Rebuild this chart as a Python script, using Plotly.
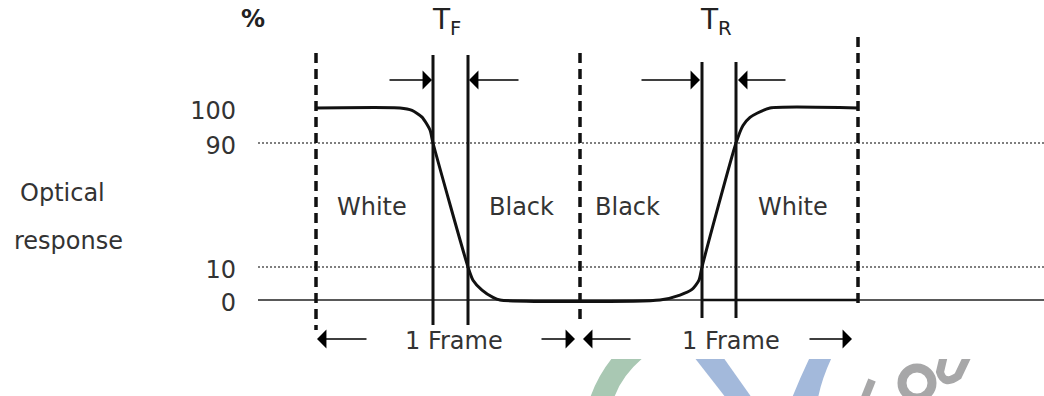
import plotly.graph_objects as go
import numpy as np

# ---------------- data ----------------
LEVEL_PCT = [0, 10, 90, 100]            # response levels (%)
LEVEL_POS = [0, 33, 157, 192]           # schematic vertical position of each level
LEVEL_LABELS = ["0", "10", "90", "100"]

# optical response vs time (schematic units)
TIME = [316, 400, 412, 422, 430, 433, 468, 473, 482, 493, 500,
        660, 680, 692, 699, 702, 736, 743, 750, 757, 770, 858]
RESPONSE = [100, 100, 99.3, 97.4, 93.7, 90, 10, 6, 3, 0.8, 0,
            0, 1.5, 3.2, 6, 10, 90, 95, 97.3, 98.5, 100, 100]

FRAME_BOUNDS = [316, 580, 858]          # frame boundaries
TF_TIMES = [433, 468]                   # fall time markers (90% -> 10%)
TR_TIMES = [702, 736]                   # rise time markers (10% -> 90%)
STATE_LABELS = ["White", "Black", "Black", "White"]
STATE_TIMES = [372, 521, 627, 793]
FRAME_LABEL_TIMES = [454, 731]


def level(p):
    return np.interp(p, LEVEL_PCT, LEVEL_POS)


FONT = "DejaVu Sans"
TXT = "#333333"
INK = "#111111"

fig = go.Figure()

# reference levels
for p in (90, 10):
    fig.add_trace(go.Scatter(x=[258, 1044], y=[level(p)] * 2, mode="lines",
                             line=dict(color="#555555", width=1.3, dash="2px,2px"),
                             hoverinfo="skip", showlegend=False))
fig.add_trace(go.Scatter(x=[258, 1044], y=[level(0)] * 2, mode="lines",
                         line=dict(color="#222222", width=1.5),
                         hoverinfo="skip", showlegend=False))
fig.add_trace(go.Scatter(x=[TR_TIMES[0], FRAME_BOUNDS[2]], y=[level(0)] * 2, mode="lines",
                         line=dict(color=INK, width=2.6),
                         hoverinfo="skip", showlegend=False))

# frame boundaries (dashed)
frame_extent = [(247, -30), (247, -25), (263, -5)]
for t, (top, bot) in zip(FRAME_BOUNDS, frame_extent):
    fig.add_trace(go.Scatter(x=[t, t], y=[top, bot], mode="lines",
                             line=dict(color=INK, width=3.5, dash="10px,6px"),
                             hoverinfo="skip", showlegend=False))

# TF / TR markers
for t in TF_TIMES:
    fig.add_trace(go.Scatter(x=[t, t], y=[245, -25], mode="lines",
                             line=dict(color=INK, width=3),
                             hoverinfo="skip", showlegend=False))
for t in TR_TIMES:
    fig.add_trace(go.Scatter(x=[t, t], y=[238, -18], mode="lines",
                             line=dict(color=INK, width=3),
                             hoverinfo="skip", showlegend=False))

# response curve
fig.add_trace(go.Scatter(x=TIME, y=level(np.array(RESPONSE)), mode="lines",
                         line=dict(color=INK, width=3, shape="spline", smoothing=0.6),
                         hoverinfo="skip", showlegend=False))

# dummy trace for the clip strip subplot
fig.add_trace(go.Scatter(x=[None], y=[None], xaxis="x2", yaxis="y2",
                         showlegend=False, hoverinfo="skip"))

ann = []


def arrow(tail, tip, y):
    ann.append(dict(x=tip, y=y, ax=tail, ay=y, xref="x", yref="y", axref="x", ayref="y",
                    text="", showarrow=True, arrowhead=1, arrowsize=2.1, arrowwidth=1.5,
                    arrowcolor="#000000", standoff=0))


arrow(388, TF_TIMES[0] - 1, 220)
arrow(520, TF_TIMES[1] + 1, 220)
arrow(640, TR_TIMES[0] - 2, 220)
arrow(787, TR_TIMES[1] + 2, 220)
arrow(368, FRAME_BOUNDS[0] + 1, -39)
arrow(540, FRAME_BOUNDS[1] - 5, -39)
arrow(632, FRAME_BOUNDS[1] + 3, -39)
arrow(808, FRAME_BOUNDS[2] - 6, -39)


def label(text, x, y, size=24, color=TXT, **kw):
    ann.append(dict(x=x, y=y, xref="x", yref="y", text=text, showarrow=False,
                    font=dict(family=FONT, size=size, color=color), **kw))


for s, t in zip(STATE_LABELS, STATE_TIMES):
    label(s, t, 93)
for t in FRAME_LABEL_TIMES:
    label("1 Frame", t, -41)

label("<b>%</b>", 253, 281, size=24, color="#222222")
label("T<sub>F</sub>", TF_TIMES[0] + 13, 279, size=28, color="#222222")
label("T<sub>R</sub>", TR_TIMES[0] + 14, 279, size=28, color="#222222")
label("Optical", 62, 107)
label("response", 68, 59)

fig.update_layout(annotations=ann)

# watermark fragments (clipped to bottom strip)
wm = []
wm.append(dict(type="path", xref="x2", yref="y2",
               path="M 613,-57 L 644,-57 Q 622,-75 614,-98 L 590,-98 Q 598,-75 613,-57 Z",
               fillcolor="#a9c8b3", line=dict(width=0), layer="below"))
wm.append(dict(type="path", xref="x2", yref="y2",
               path="M 694,-57 L 723,-57 L 752,-98 L 726,-98 Z",
               fillcolor="#a3b9db", line=dict(width=0), layer="below"))
wm.append(dict(type="path", xref="x2", yref="y2",
               path="M 810,-57 L 832,-57 Q 822,-78 818,-98 L 792,-98 Q 800,-78 810,-57 Z",
               fillcolor="#a3b9db", line=dict(width=0), layer="below"))
wm.append(dict(type="circle", xref="x2", yref="y2", x0=902, x1=932, y0=-98, y1=-68,
               line=dict(color="#a7a7a8", width=9), layer="below"))
wm.append(dict(type="path", xref="x2", yref="y2",
               path="M 944,-55 L 940,-72 Q 944,-86 958,-76 L 968,-55",
               line=dict(color="#a7a7a8", width=8), layer="below"))
wm.append(dict(type="path", xref="x2", yref="y2",
               path="M 872,-80 L 864,-100",
               line=dict(color="#a7a7a8", width=8), layer="below"))
fig.update_layout(shapes=wm)

fig.update_layout(
    width=1044, height=396,
    margin=dict(l=0, r=0, t=0, b=0),
    paper_bgcolor="white", plot_bgcolor="rgba(0,0,0,0)",
    showlegend=False,
    xaxis=dict(range=[0, 1044], visible=False, domain=[0, 1]),
    yaxis=dict(range=[-96, 300], anchor="free", position=236 / 1044,
               tickvals=LEVEL_POS, ticktext=LEVEL_LABELS, ticks="",
               showgrid=False, zeroline=False, showline=False,
               ticklabelshift=3,
               tickfont=dict(family=FONT, size=24, color=TXT)),
    xaxis2=dict(range=[0, 1044], visible=False, anchor="y2", domain=[0, 1]),
    yaxis2=dict(range=[-96, -59], visible=False, anchor="x2", domain=[0, 37 / 396]),
)

fig.write_html("out.html", config={"displayModeBar": False},
               post_script="document.body.style.margin='0';document.body.style.overflow='hidden';")
